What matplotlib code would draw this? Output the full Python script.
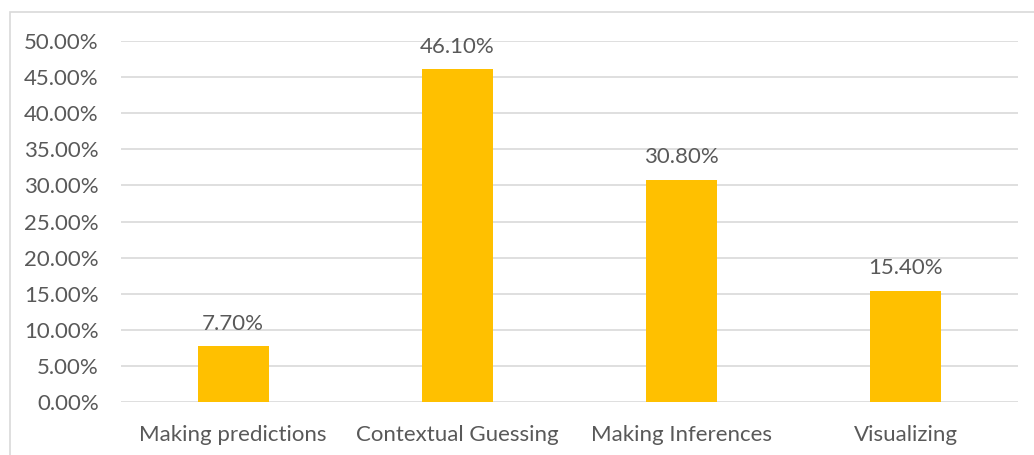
import matplotlib
matplotlib.use("Agg")
import matplotlib.pyplot as plt
from matplotlib.patches import Rectangle
from matplotlib.ticker import FuncFormatter, MultipleLocator

categories = ["Making predictions", "Contextual Guessing", "Making Inferences", "Visualizing"]
values = [7.70, 46.10, 30.80, 15.40]
y_max = 50.0
y_step = 5.0

bar_color = "#FFC000"
text_color = "#595959"
grid_color = "#D9D9D9"

plt.rcParams["font.family"] = ["Lato", "DejaVu Sans"]

fig = plt.figure(figsize=(10.34, 4.55), dpi=100)
ax = fig.add_axes([121 / 1034, 1 - 402 / 455, 897 / 1034, 361 / 455])

# chart-area frame
fig.patches.append(Rectangle((10 / 1034, -0.01), 1.02, 1 - 12 / 455 + 0.01,
                             transform=fig.transFigure, fill=False,
                             edgecolor=grid_color, linewidth=1.2, zorder=0))

x = range(len(categories))
bars = ax.bar(x, values, width=0.317, color=bar_color, zorder=3)

for rect, v in zip(bars, values):
    ax.annotate(f"{v:.2f}%", (rect.get_x() + rect.get_width() / 2, v),
                xytext=(0, 9), textcoords="offset points",
                ha="center", va="bottom", fontsize=16, color=text_color)

ax.set_xlim(-0.5, len(categories) - 0.5)
ax.set_ylim(0, y_max)
ax.yaxis.set_major_locator(MultipleLocator(y_step))
ax.yaxis.set_major_formatter(FuncFormatter(lambda v, _: f"{v:.2f}%"))
ax.set_xticks(list(x))
ax.set_xticklabels(categories)

ax.grid(axis="y", color=grid_color, linewidth=1.2, zorder=0)
ax.set_axisbelow(True)
for s in ax.spines.values():
    s.set_visible(False)
ax.tick_params(axis="both", length=0, labelsize=16, colors=text_color)
ax.tick_params(axis="y", pad=16)
ax.tick_params(axis="x", pad=16.5)

fig.savefig("out.png", dpi=100)
